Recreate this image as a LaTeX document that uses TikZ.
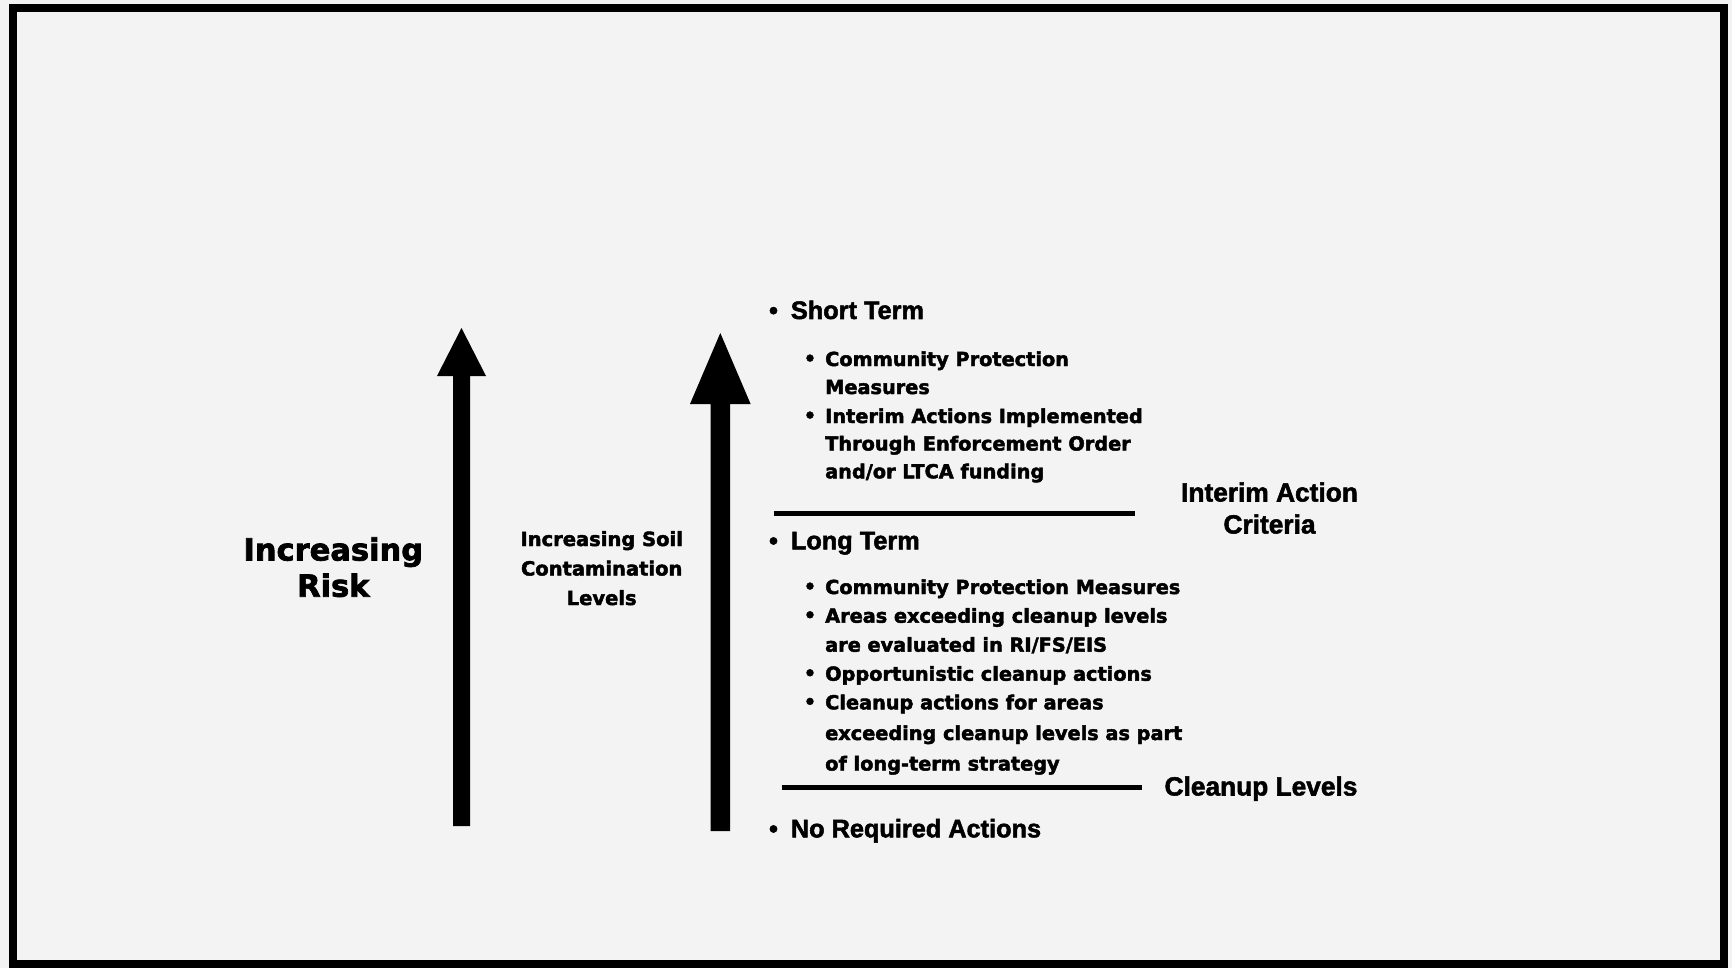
\documentclass[tikz,border=0pt]{standalone}
\usepackage{fontspec}
\setmainfont{Liberation Sans}[BoldFeatures={FakeBold=2}]
\newfontfamily\heavyfont{DejaVu Sans}[BoldFeatures={FakeBold=2.3}]

\definecolor{paper}{RGB}{243,243,243}

\tikzset{
  mainitem/.style={anchor=base west, inner sep=0pt, font=\bfseries\fontsize{25.3}{28}\selectfont},
  mainbullet/.style={anchor=base, inner sep=0pt, font=\bfseries\fontsize{25.3}{28}\selectfont},
  subitem/.style={anchor=base west, inner sep=0pt, font=\heavyfont\bfseries\fontsize{19.3}{28}\selectfont},
  subbullet/.style={anchor=base, inner sep=0pt, font=\bfseries\fontsize{24}{28}\selectfont},
  sidelabel/.style={anchor=base, inner sep=0pt, font=\bfseries\fontsize{26.3}{30}\selectfont},
  risklabel/.style={anchor=base, inner sep=0pt, font=\heavyfont\bfseries\fontsize{30.5}{34}\selectfont},
  soillabel/.style={anchor=base, inner sep=0pt, font=\heavyfont\bfseries\fontsize{19.5}{24}\selectfont},
  levelrule/.style={line width=5.5pt},
  bigarrow/.style={fill=black},
  framebox/.style={draw=black, line width=8pt},
}

\begin{document}
\begin{tikzpicture}[x=1pt, y=-1pt]
  % page and border
  \fill[paper] (0,0) rectangle (1732,968);
  \useasboundingbox (0,0) rectangle (1732,968);
  \draw[framebox] (12.5,8.5) rectangle (1724,963.5);

  % risk arrow
  \coordinate (riskTip) at (461.5,328);
  \fill[bigarrow] (453,826) -- (453,376) -- (437,376) -- (riskTip)
                  -- (486,376) -- (470,376) -- (470,826) -- cycle;

  % contamination arrow
  \coordinate (soilTip) at (720.3,333);
  \fill[bigarrow] (710.5,831) -- (710.5,404) -- (690,404) -- (soilTip)
                  -- (750.6,404) -- (730.1,404) -- (730.1,831) -- cycle;

  % axis labels
  \node[risklabel] (riskA) at (333.3,560.5) {Increasing};
  \node[risklabel] (riskB) at (333.3,596.7) {Risk};

  \node[soillabel] (soilA) at (601.7,546) {Increasing Soil};
  \node[soillabel] (soilB) at (601.7,575.5) {Contamination};
  \node[soillabel] (soilC) at (601.7,605) {Levels};

  % short term
  \node[mainbullet] (bShort) at (773.5,319) {•};
  \node[mainitem] (short) at (790.7,319) {Short Term};

  \node[subbullet] (bS1) at (810,366) {•};
  \node[subitem] (s1a) at (825,366) {Community Protection};
  \node[subitem] (s1b) at (825,394) {Measures};
  \node[subbullet] (bS2) at (810,423) {•};
  \node[subitem] (s2a) at (825,423) {Interim Actions Implemented};
  \node[subitem] (s2b) at (825,450.5) {Through Enforcement Order};
  \node[subitem] (s2c) at (825,478.3) {and/or LTCA funding};

  % interim action criteria threshold
  \coordinate (ruleOneL) at (774,513.6);
  \coordinate (ruleOneR) at (1135,513.6);
  \draw[levelrule] (ruleOneL) -- (ruleOneR);
  \node[sidelabel] (iacA) at (1269.5,501.5) {Interim Action};
  \node[sidelabel] (iacB) at (1269.5,533.5) {Criteria};

  % long term
  \node[mainbullet] (bLong) at (773.5,549.3) {•};
  \node[mainitem] (long) at (790.7,549.3) {Long Term};

  \node[subbullet] (bL1) at (810,594) {•};
  \node[subitem] (l1) at (825,594) {Community Protection Measures};
  \node[subbullet] (bL2) at (810,622.7) {•};
  \node[subitem] (l2a) at (825,622.7) {Areas exceeding cleanup levels};
  \node[subitem] (l2b) at (825,651.7) {are evaluated in RI/FS/EIS};
  \node[subbullet] (bL3) at (810,680.7) {•};
  \node[subitem] (l3) at (825,680.7) {Opportunistic cleanup actions};
  \node[subbullet] (bL4) at (810,709.3) {•};
  \node[subitem] (l4a) at (825,709.3) {Cleanup actions for areas};
  \node[subitem] (l4b) at (825,740) {exceeding cleanup levels as part};
  \node[subitem] (l4c) at (825,770.5) {of long-term strategy};

  % cleanup levels threshold
  \coordinate (ruleTwoL) at (781.7,787.3);
  \coordinate (ruleTwoR) at (1141.7,787.3);
  \draw[levelrule] (ruleTwoL) -- (ruleTwoR);
  \node[sidelabel] (clean) at (1261,795.5) {Cleanup Levels};

  % below cleanup levels
  \node[mainbullet] (bNone) at (773.5,837.3) {•};
  \node[mainitem] (none) at (790.7,837.3) {No Required Actions};
\end{tikzpicture}
\end{document}
